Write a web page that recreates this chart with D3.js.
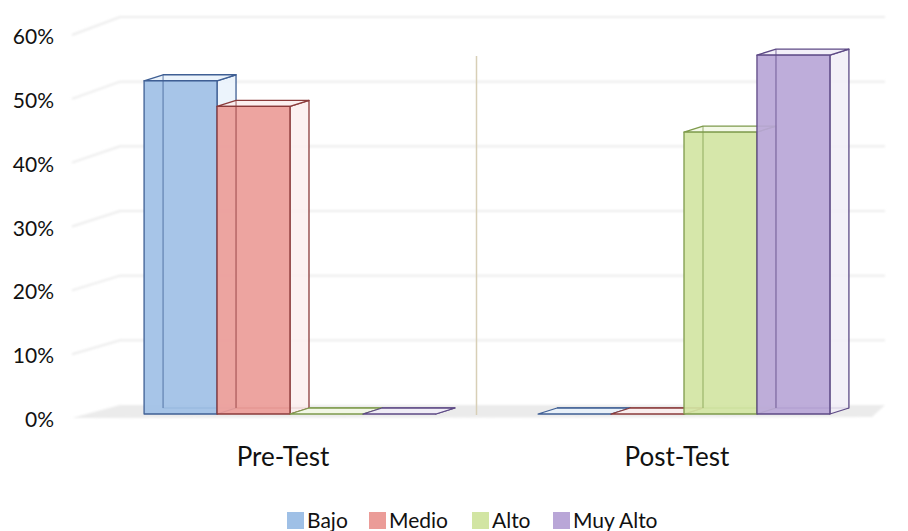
<!DOCTYPE html>
<html>
<head>
<meta charset="utf-8">
<script src="https://cdnjs.cloudflare.com/ajax/libs/d3/7.8.5/d3.min.js"></script>
<style>
  body { margin: 0; background: #fff; }
  text { font-family: Lato, "Open Sans", sans-serif; fill: #111; }
</style>
</head>
<body>
<div id="chart"></div>
<script>
var categories = ["Pre-Test", "Post-Test"];
var series = ["Bajo", "Medio", "Alto", "Muy Alto"];
var values = {
  "Pre-Test":  [0.52, 0.48, 0, 0],
  "Post-Test": [0, 0, 0.44, 0.56]
};
var ticks = [0, 0.1, 0.2, 0.3, 0.4, 0.5, 0.6];

var fills   = ["#9fc0e6", "#eb9c98", "#d2e5a3", "#b9a6d7"];
var strokes = ["#3f5f94", "#8a3b3b", "#7e9a4c", "#5d4985"];
var sides   = ["#e9f2fb", "#fbeeee", "#f3f8e6", "#f1edf7"];

var W = 908, H = 531;
var dx = 19, dy = -6;   // bar depth

var svg = d3.select("#chart").append("svg")
  .attr("width", W).attr("height", H);

var x0 = d3.scaleBand().domain(categories).range([93, 881]);
var x1 = d3.scaleBand().domain(series).range([0, x0.bandwidth()]).paddingOuter(0.7);
var yF = d3.scaleLinear().domain([0, 0.6]).range([414, 29.5]);   // bar front
var yB = d3.scaleLinear().domain([0, 0.6]).range([405, 17]);     // back wall
var yW = d3.scaleLinear().domain([0, 0.6]).range([418, 35]);     // left wall front edge

var defs = svg.append("defs");
defs.append("filter").attr("id", "soft")
  .append("feGaussianBlur").attr("stdDeviation", 0.8);

// floor
svg.append("polygon")
  .attr("points", [[72, 418], [120, 405], [885, 405], [872, 417]].join(" "))
  .attr("fill", "#ebebeb").attr("filter", "url(#soft)");

// gridlines: left wall diagonals + back wall horizontals
var grid = svg.append("g").attr("filter", "url(#soft)");
grid.selectAll("path").data(ticks.slice(1)).enter().append("path")
  .attr("d", function(d) {
    return "M72," + yW(d) + "L120," + yB(d) + "L885," + yB(d);
  })
  .attr("fill", "none").attr("stroke", "#ececec").attr("stroke-width", 2);

// category separator
svg.append("line")
  .attr("x1", 476.5).attr("x2", 476.5).attr("y1", 56).attr("y2", 415)
  .attr("stroke", "#d8cfb6").attr("stroke-width", 1.5);

// tick labels
svg.selectAll(".tick").data(ticks).enter().append("text")
  .attr("x", 54).attr("y", function(d) { return yW(d) + 9; })
  .attr("text-anchor", "end")
  .style("font-size", "21px")
  .text(d3.format(".0%"));

// bars
categories.forEach(function(c) {
  values[c].forEach(function(v, i) {
    var s = series[i];
    var xa = x0(c) + x1(s), xb = xa + x1.bandwidth();
    var yt = yF(v), yb = yF(0);
    var g = svg.append("g").attr("stroke", strokes[i]).attr("stroke-width", 1.3)
      .attr("stroke-linejoin", "round");

    // hidden back edges, seen through
    g.append("path")
      .attr("d", "M" + (xa + dx) + "," + (yt + dy) + "V" + (yb + dy) + "H" + (xb + dx))
      .attr("fill", "none").attr("stroke-opacity", 0.8);
    // right side
    g.append("polygon")
      .attr("points", [[xb, yt], [xb + dx, yt + dy], [xb + dx, yb + dy], [xb, yb]].join(" "))
      .attr("fill", sides[i]).attr("fill-opacity", 0.85);
    // top
    g.append("polygon")
      .attr("points", [[xa, yt], [xa + dx, yt + dy], [xb + dx, yt + dy], [xb, yt]].join(" "))
      .attr("fill", sides[i]).attr("fill-opacity", 0.9);
    // front
    g.append("rect")
      .attr("x", xa).attr("y", yt).attr("width", xb - xa).attr("height", yb - yt)
      .attr("fill", fills[i]).attr("fill-opacity", 0.92);
    // back-left edge again, faintly over the front face
    if (v > 0) {
      g.append("line")
        .attr("x1", xa + dx).attr("x2", xa + dx).attr("y1", yt + dy).attr("y2", yb + dy)
        .attr("stroke-opacity", 0.55);
    }
  });
});

// category labels
svg.selectAll(".cat").data(categories).enter().append("text")
  .attr("x", function(d) { return x0(d) + x0.bandwidth() / 2 - 7; })
  .attr("y", 466).attr("text-anchor", "middle")
  .style("font-size", "26px")
  .text(function(d) { return d; });

// legend
var legX = [287, 369, 472, 553];
var leg = svg.selectAll(".leg").data(series).enter().append("g")
  .attr("transform", function(d, i) { return "translate(" + legX[i] + ",512)"; });
leg.append("rect").attr("width", 17).attr("height", 17)
  .attr("fill", function(d, i) { return fills[i]; });
leg.append("text").attr("x", 20).attr("y", 16)
  .style("font-size", "21px")
  .text(function(d) { return d; });
</script>
</body>
</html>
